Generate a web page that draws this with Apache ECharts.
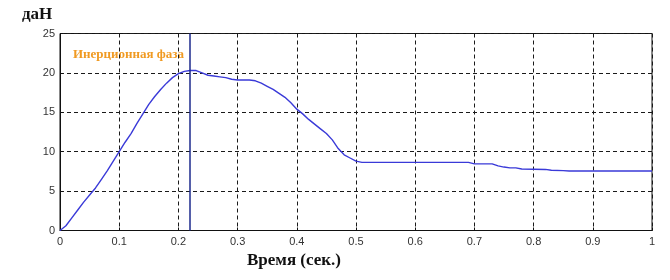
<!DOCTYPE html>
<html>
<head>
<meta charset="utf-8">
<script src="https://cdn.jsdelivr.net/npm/echarts@6/dist/echarts.min.js"></script>
<style>html,body{margin:0;padding:0;background:#fff}#c{width:670px;height:280px}</style>
</head>
<body>
<div id="c"></div>
<script>
const timeSec = [0,0.01,0.02,0.03,0.04,0.05,0.06,0.07,0.08,0.09,0.1,0.11,0.12,0.13,0.14,0.15,0.16,0.17,0.18,0.19,0.2,0.21,0.22,0.23,0.24,0.25,0.26,0.27,0.28,0.29,0.3,0.31,0.32,0.33,0.34,0.35,0.36,0.37,0.38,0.39,0.4,0.41,0.42,0.43,0.44,0.45,0.46,0.47,0.48,0.49,0.5,0.51,0.6,0.69,0.7,0.73,0.74,0.75,0.76,0.77,0.78,0.82,0.83,0.85,0.86,1.0];
const forceDaN = [0,0.6,1.6,2.6,3.6,4.5,5.4,6.5,7.6,8.8,10,11.2,12.3,13.6,14.8,16,17,17.9,18.7,19.4,19.9,20.2,20.3,20.3,20.0,19.7,19.6,19.5,19.4,19.2,19.1,19.1,19.1,19.0,18.7,18.3,17.9,17.4,16.9,16.2,15.4,14.8,14.1,13.5,12.9,12.3,11.5,10.4,9.6,9.2,8.8,8.65,8.65,8.65,8.45,8.45,8.2,8.05,7.95,7.95,7.8,7.75,7.65,7.6,7.55,7.55];
const phaseEnd = 0.221;
const yTitle = 'даН';
const xTitle = 'Время (сек.)';
const phaseLabel = 'Инерционная фаза';

const chart = echarts.init(document.getElementById('c'), null, {renderer:'canvas'});
const gridDash = {type:[4,3], color:'#1a1a1a', width:1};
const serif = '"Liberation Serif", "Times New Roman", serif';
chart.setOption({
  animation:false,
  grid:{left:60, right:18, top:33.5, bottom:49.5, show:true, borderColor:'#111', borderWidth:1},
  xAxis:{type:'value', min:0, max:1, interval:0.1,
    axisLine:{show:true, lineStyle:{color:'#111'}},
    axisTick:{show:true, inside:true, length:3, lineStyle:{color:'#111'}},
    axisLabel:{margin:6, color:'#333', fontFamily:'Liberation Sans, Arial', fontSize:11,
      formatter:v=>{const r=Math.round(v*10)/10; return (r===0||r===1)?String(r):r.toFixed(1);}},
    splitLine:{show:true, lineStyle:gridDash}},
  yAxis:{type:'value', min:0, max:25, interval:5,
    axisLine:{show:true, lineStyle:{color:'#111'}},
    axisTick:{show:true, inside:true, length:3, lineStyle:{color:'#111'}},
    axisLabel:{margin:5, color:'#333', fontFamily:'Liberation Sans, Arial', fontSize:11},
    splitLine:{show:true, lineStyle:gridDash}},
  graphic:[
    {type:'text', left:22, top:6, style:{text:yTitle, fontFamily:serif, fontWeight:'bold', fontSize:17, fill:'#111'}},
    {type:'text', left:247, top:252, style:{text:xTitle, fontFamily:serif, fontWeight:'bold', fontSize:17, fill:'#111'}},
    {type:'text', left:73, top:48, style:{text:phaseLabel, fontFamily:serif, fontWeight:'bold', fontSize:13, fill:'#F09A22'}}
  ],
  series:[{
    type:'line', data:timeSec.map((t,i)=>[t,forceDaN[i]]), showSymbol:false, symbol:'none',
    lineStyle:{color:'#3a3ad8', width:1.4},
    markLine:{silent:true, symbol:['none','none'], label:{show:false},
      lineStyle:{color:'#1c2a8c', width:1.5, type:'solid'},
      data:[{xAxis:phaseEnd}]}
  }]
});
</script>
</body>
</html>
